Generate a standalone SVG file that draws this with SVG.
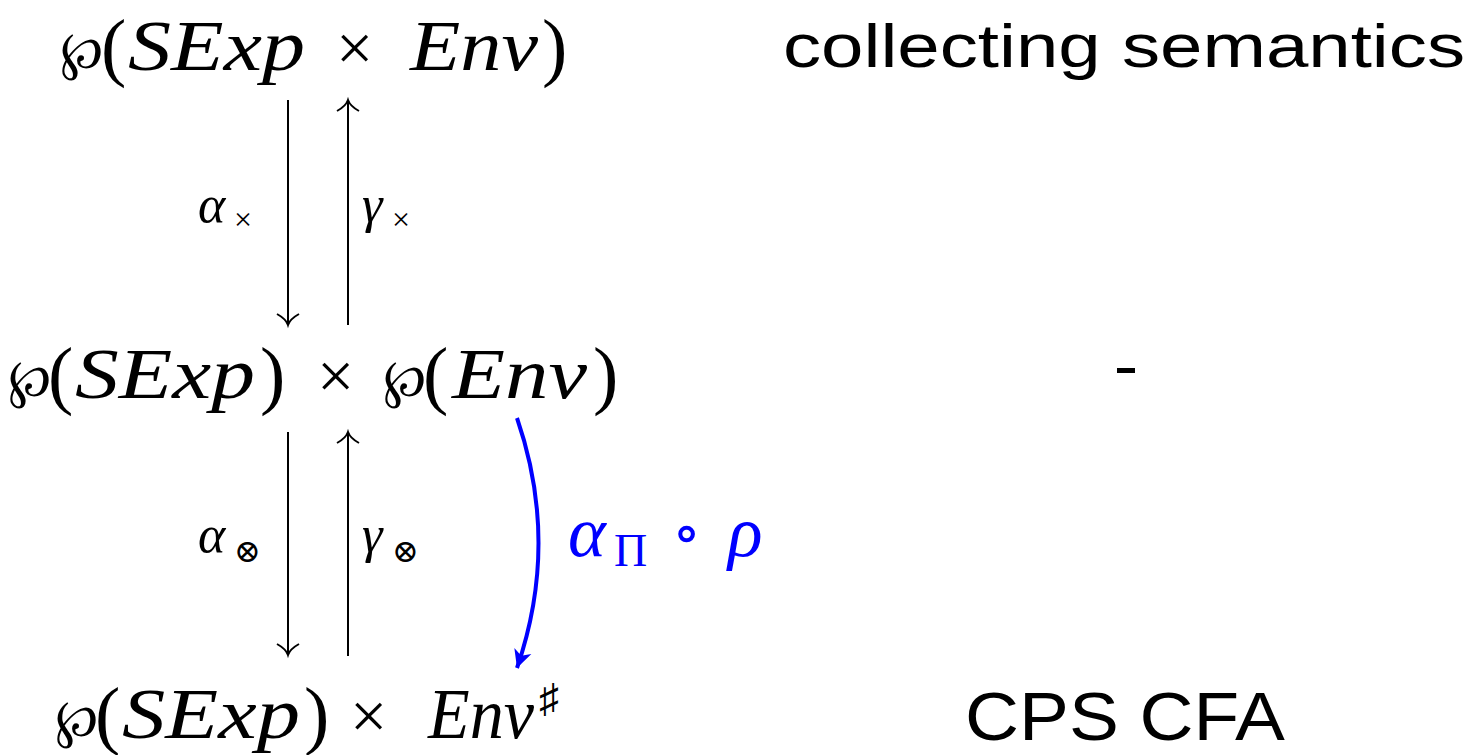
<svg xmlns="http://www.w3.org/2000/svg" width="1473" height="755" viewBox="0 0 1473 755">
<style>
.m{font-family:"Liberation Serif","DejaVu Serif",serif;font-size:66px;fill:#000}
.i{font-style:italic;font-size:72px}
.p{font-family:"DejaVu Serif",serif;font-size:52px}
.par{font-size:76px}
.lbl{font-family:"Liberation Serif","DejaVu Serif",serif;font-size:52px;fill:#000;font-style:italic}
.sub{font-size:32px;font-style:normal}
.sans{font-family:"Liberation Sans",Arial,sans-serif;fill:#000}
.ar{stroke:#000;stroke-width:2;fill:none}
</style>
<defs>
<marker id="cm" markerWidth="30" markerHeight="30" refX="14" refY="15" orient="auto" markerUnits="userSpaceOnUse" viewBox="0 0 30 30">
<path d="M3,4 Q8,13 14,15 Q8,17 3,26" stroke="#000" stroke-width="2" fill="none"/>
</marker>
<marker id="bl" markerWidth="30" markerHeight="30" refX="20" refY="15" orient="auto" markerUnits="userSpaceOnUse" viewBox="0 0 30 30">
<path d="M20,15 L2,6 L7,15 L2,24 Z" fill="#0000ff"/>
</marker>
</defs>
<g id="n1">
<text class="m" y="70"><tspan class="p" x="60" y="68">℘</tspan><tspan class="par" x="101" y="72">(</tspan><tspan class="i" x="128" y="70" textLength="177" lengthAdjust="spacingAndGlyphs">SExp</tspan><tspan x="336">×</tspan><tspan class="i" x="410" textLength="128" lengthAdjust="spacingAndGlyphs">Env</tspan><tspan class="par" x="542" y="72">)</tspan></text>
</g>
<g id="n2">
<text class="m" y="398"><tspan class="p" x="8" y="396">℘</tspan><tspan class="par" x="48" y="400">(</tspan><tspan class="i" x="75" y="398" textLength="180" lengthAdjust="spacingAndGlyphs">SExp</tspan><tspan class="par" x="260" y="400">)</tspan><tspan x="317" y="398">×</tspan><tspan class="p" x="383" y="396">℘</tspan><tspan class="par" x="423" y="400">(</tspan><tspan class="i" x="452" y="398" textLength="135" lengthAdjust="spacingAndGlyphs">Env</tspan><tspan class="par" x="593" y="400">)</tspan></text>
</g>
<g id="n3">
<text class="m" y="738"><tspan class="p" x="55" y="736">℘</tspan><tspan class="par" x="95" y="740">(</tspan><tspan class="i" x="122" y="738" textLength="178" lengthAdjust="spacingAndGlyphs">SExp</tspan><tspan class="par" x="304" y="740">)</tspan><tspan x="350" y="738">×</tspan><tspan class="i" x="428" y="738" textLength="106" lengthAdjust="spacingAndGlyphs">Env</tspan><tspan x="539" y="712" font-size="40">♯</tspan></text>
</g>
<g id="t1"><text class="sans" x="783" y="67" font-size="62" textLength="682" lengthAdjust="spacingAndGlyphs">collecting semantics</text></g>
<g id="t2"><rect x="1117" y="368" width="18" height="5" fill="#000"/></g>
<g id="t3"><text class="sans" x="965" y="740" font-size="68" textLength="320" lengthAdjust="spacingAndGlyphs">CPS CFA</text></g>
<g id="connectors">
<line class="ar" x1="288" y1="100" x2="288" y2="325" marker-end="url(#cm)"/>
<line class="ar" x1="348" y1="325" x2="348" y2="100" marker-end="url(#cm)"/>
<line class="ar" x1="288" y1="432" x2="288" y2="655" marker-end="url(#cm)"/>
<line class="ar" x1="348" y1="656" x2="348" y2="432" marker-end="url(#cm)"/>
<path d="M517,418 Q560,543 517,668" stroke="#0000ff" stroke-width="4" fill="none" marker-end="url(#bl)"/>
<text class="lbl" y="222"><tspan x="198">α</tspan><tspan class="sub" x="234" y="230">×</tspan></text>
<text class="lbl" y="222"><tspan x="362">γ</tspan><tspan class="sub" x="392" y="230">×</tspan></text>
<text class="lbl" y="552"><tspan x="198">α</tspan><tspan class="sub" x="234" y="562">⊗</tspan></text>
<text class="lbl" y="552"><tspan x="362">γ</tspan><tspan class="sub" x="392" y="562">⊗</tspan></text>
<text font-family="Liberation Serif,DejaVu Serif,serif" fill="#0000ff" font-size="72" y="556"><tspan x="568" font-style="italic">α</tspan><tspan x="614" y="566" font-size="46">Π</tspan><tspan x="672" y="553" font-size="60">∘</tspan><tspan x="728" y="556" font-style="italic">ρ</tspan></text>
</g>
</svg>
